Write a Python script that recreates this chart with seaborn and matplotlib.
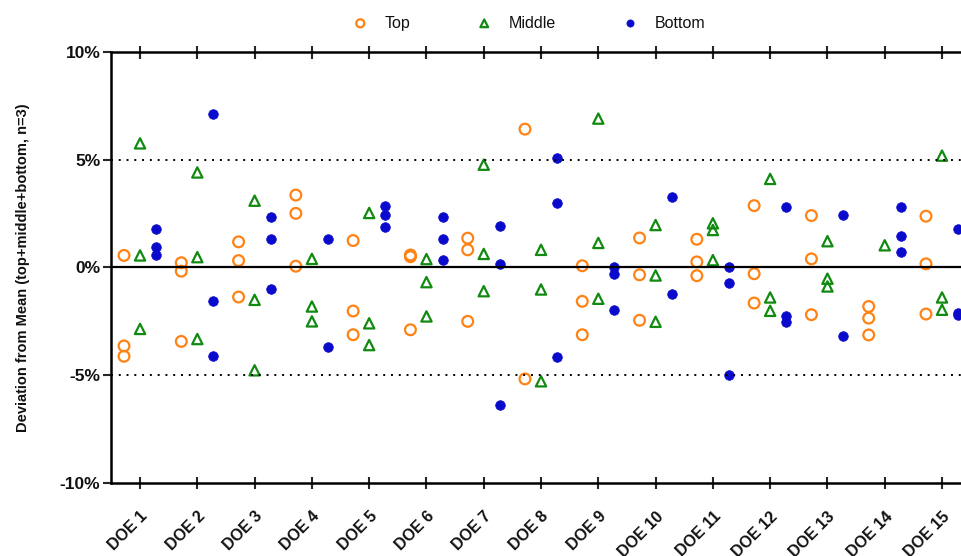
import numpy as np
import pandas as pd
import seaborn as sns
import matplotlib
matplotlib.use('Agg')
import matplotlib.pyplot as plt
from matplotlib.ticker import FuncFormatter

# Data: deviation from mean (%) per DOE run, three replicates per position
doe_labels = [f"DOE {i}" for i in range(1, 16)]

top_vals = [
    [0.56, -3.64, -4.12],
    [0.22, -0.17, -3.43],
    [1.19, 0.32, -1.37],
    [3.36, 2.51, 0.06],
    [1.25, -2.02, -3.12],
    [0.58, 0.50, -2.89],
    [1.36, 0.82, -2.50],
    [6.42, -5.17],
    [0.08, -1.57, -3.12],
    [1.37, -0.34, -2.45],
    [1.31, 0.26, -0.38],
    [2.87, -0.29, -1.65],
    [2.41, 0.40, -2.19],
    [-1.81, -2.35, -3.13],
    [2.38, 0.17, -2.16],
]
middle_vals = [
    [5.76, 0.56, -2.85],
    [4.41, 0.48, -3.32],
    [3.10, -1.50, -4.77],
    [0.40, -1.81, -2.50],
    [2.53, -2.59, -3.60],
    [0.39, -0.68, -2.27],
    [4.77, 0.63, -1.10],
    [0.82, -1.02, -5.28],
    [6.91, 1.14, -1.45],
    [1.97, -0.37, -2.52],
    [2.05, 1.74, 0.34],
    [4.11, -1.39, -2.01],
    [1.22, -0.52, -0.88],
    [1.03],
    [5.19, -1.39, -1.96],
]
bottom_vals = [
    [1.78, 0.97, 0.60],
    [7.12, -1.56, -4.10],
    [2.33, 1.31, -1.02],
    [1.30, -3.69],
    [2.84, 2.45, 1.87],
    [2.33, 1.31, 0.34],
    [1.91, 0.15, -6.40],
    [5.08, 2.98, -4.15],
    [0.0, -0.32, -1.99],
    [3.29, -1.25],
    [0.02, -0.71, -5.00],
    [2.82, -2.27, -2.55],
    [2.45, -3.19],
    [2.79, 1.44, 0.71],
    [1.79, -2.12, -2.22],
]

series = {'Top': top_vals, 'Middle': middle_vals, 'Bottom': bottom_vals}
offsets = {'Top': -0.28, 'Middle': 0.0, 'Bottom': 0.28}

rows = []
for name, groups in series.items():
    for i, vals in enumerate(groups):
        for v in vals:
            rows.append({'pos': i + 1 + offsets[name], 'dev': v, 'series': name})
df = pd.DataFrame(rows)

sns.set_style('white')
plt.rcParams['font.family'] = ['Liberation Sans', 'DejaVu Sans']

fig = plt.figure(figsize=(9.62, 5.56), dpi=100)
ax = fig.add_axes([0.1158, 0.1313, 0.8932, 0.7752])

orange = '#FF8214'
green = '#118A11'
blue = '#0A0ACC'

sns.scatterplot(data=df[df['series'] == 'Top'], x='pos', y='dev', ax=ax,
                marker='o', s=60, facecolors='none', edgecolor=orange,
                linewidth=1.6, label='Top')
sns.scatterplot(data=df[df['series'] == 'Middle'], x='pos', y='dev', ax=ax,
                marker='^', s=55, facecolors='none', edgecolor=green,
                linewidth=1.6, label='Middle')
sns.scatterplot(data=df[df['series'] == 'Bottom'], x='pos', y='dev', ax=ax,
                marker='o', s=48, color=blue, edgecolor=blue,
                linewidth=0.5, label='Bottom')

# reference lines
ax.axhline(0, color='black', lw=1.6, zorder=1)
ax.axhline(5, color='black', lw=1.4, ls=(0, (1, 3)), zorder=1)
ax.axhline(-5, color='black', lw=1.4, ls=(0, (1, 3)), zorder=1)

ax.set_xlim(0.5, 15.5)
ax.set_ylim(-10, 10)
ax.set_yticks([-10, -5, 0, 5, 10])
ax.yaxis.set_major_formatter(FuncFormatter(lambda v, p: f"{int(v)}%"))
ax.set_xticks(range(1, 16))
ax.set_xticklabels(doe_labels, rotation=45, ha='right', rotation_mode='anchor',
                   fontsize=11.5, fontweight='bold', color='#111111')
for lab in ax.get_yticklabels():
    lab.set_fontsize(12.5)
    lab.set_fontweight('bold')
    lab.set_color('#111111')

ax.set_xlabel('')
ax.set_ylabel('Deviation from Mean (top+middle+bottom, n=3)', fontsize=10.5,
              fontweight='bold', labelpad=21, color='#111111')

for side in ['left', 'bottom', 'top']:
    ax.spines[side].set_visible(True)
    ax.spines[side].set_linewidth(1.8)
    ax.spines[side].set_color('black')
ax.spines['right'].set_visible(False)

ax.tick_params(axis='y', which='major', direction='out', length=6, width=1.5,
               left=True, pad=2)
ax.tick_params(axis='x', which='major', direction='inout', length=9, width=1.5,
               bottom=True, top=True, pad=14)

# inward ticks along the top spine
sec = ax.secondary_xaxis('top')
sec.set_xticks(range(1, 16))
sec.set_xticklabels([])
sec.tick_params(direction='in', length=5, width=1.5)
sec.spines['top'].set_visible(False)

leg = ax.legend(loc='upper center', bbox_to_anchor=(0.481, 1.118), ncol=3,
                frameon=False, fontsize=11.5, columnspacing=3.6,
                handletextpad=0.55, markerscale=0.75)
for t in leg.get_texts():
    t.set_color('#111111')

fig.savefig('out.png', dpi=100)
